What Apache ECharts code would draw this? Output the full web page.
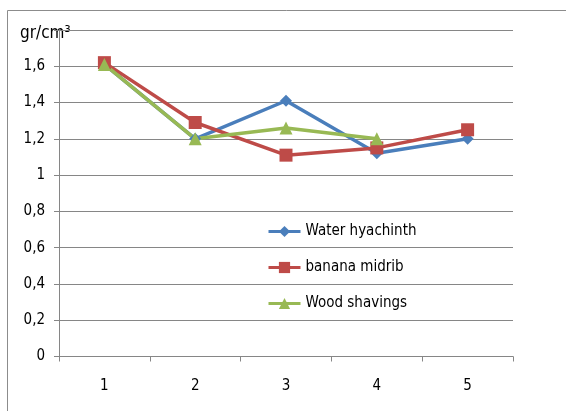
<!DOCTYPE html>
<html>
<head>
<meta charset="utf-8">
<script src="https://cdn.jsdelivr.net/npm/echarts@6/dist/echarts.min.js"></script>
<style>html,body{margin:0;padding:0;background:#fff}#c{width:566px;height:411px}</style>
</head>
<body>
<div id="c"></div>
<script>
const categories = ['1', '2', '3', '4', '5'];
const waterHyachinth = [1.61, 1.20, 1.41, 1.12, 1.20];
const bananaMidrib = [1.62, 1.29, 1.11, 1.15, 1.25];
const woodShavings = [1.61, 1.20, 1.26, 1.20, null];
const seriesNames = ['Water hyachinth', 'banana midrib', 'Wood shavings'];
const yTitle = 'gr/cm³';

const font = "'DejaVu Sans Condensed', 'Liberation Sans', sans-serif";
const chart = echarts.init(document.getElementById('c'), null, {renderer: 'canvas'});
function mk(name, data, color, symbol, size) {
  return {
    name, type: 'line', data, color, symbol, symbolSize: size,
    connectNulls: false,
    lineStyle: {width: 3.5, color},
    itemStyle: {color},
    z: 3
  };
}
chart.setOption({
  animation: false,
  backgroundColor: '#fff',
  graphic: [
    {type: 'line', shape: {x1: 7.5, y1: 10.5, x2: 566, y2: 10.5}, style: {stroke: '#8c8c8c', lineWidth: 1}},
    {type: 'line', shape: {x1: 7.5, y1: 10.5, x2: 7.5, y2: 411}, style: {stroke: '#8c8c8c', lineWidth: 1}},
    {type: 'text', left: 20, top: 25, style: {text: yTitle, font: "17px " + font, fill: '#000'}}
  ],
  grid: {left: 59, right: 53, top: 30, bottom: 54.5, containLabel: false},
  legend: {
    orient: 'vertical', left: 262, top: 219, itemGap: 21, itemWidth: 32, itemHeight: 14,
    lineStyle: {width: 3},
    textStyle: {fontFamily: font, fontSize: 15, color: '#000'},
    data: seriesNames
  },
  xAxis: {
    type: 'category', data: categories, boundaryGap: true,
    axisLine: {lineStyle: {color: '#868686'}},
    axisTick: {show: true, alignWithLabel: false, length: 5, lineStyle: {color: '#868686'}},
    axisLabel: {fontFamily: font, fontSize: 15, color: '#000', margin: 22}
  },
  yAxis: {
    type: 'value', min: 0, max: 1.8, interval: 0.2,
    axisLine: {show: true, lineStyle: {color: '#868686'}},
    axisTick: {show: true, length: 5, lineStyle: {color: '#868686'}},
    splitLine: {lineStyle: {color: '#868686'}},
    axisLabel: {
      fontFamily: font, fontSize: 15, color: '#000', margin: 14,
      formatter: v => (Math.abs(v - 1.8) < 1e-6) ? '' : String(+v.toFixed(1)).replace('.', ',')
    }
  },
  series: [
    mk(seriesNames[0], waterHyachinth, '#4a7ebb', 'diamond', 12),
    mk(seriesNames[1], bananaMidrib, '#be4b48', 'rect', 13),
    mk(seriesNames[2], woodShavings, '#98b954', 'triangle', 13)
  ]
});
</script>
</body>
</html>
